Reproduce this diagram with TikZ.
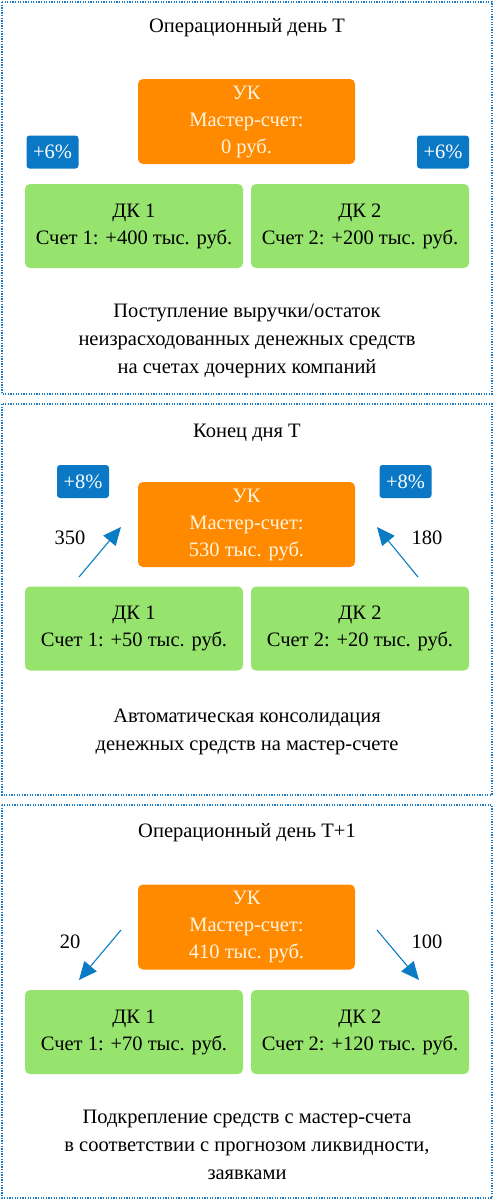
\documentclass[tikz,border=0pt]{standalone}
\usepackage{fontspec}
\setmainfont{Liberation Serif}
\usetikzlibrary{arrows.meta}
\definecolor{bord}{HTML}{1B7BC6}
\definecolor{ukc}{HTML}{FF8A00}
\definecolor{dkc}{HTML}{96E36E}
\definecolor{badgec}{HTML}{0A78C4}
\definecolor{arrc}{HTML}{0B7CC4}
\definecolor{ukt}{HTML}{FFF4E0}
\tikzset{
  panel/.style={draw=bord, line width=2pt, dash pattern=on 1.3pt off 1.3pt},
  ukbox/.style={fill=ukc, rounded corners=5pt, text=ukt, align=center, minimum width=217pt, minimum height=85pt, font=\fontsize{20.5}{27}\selectfont, inner sep=0pt},
  dkbox/.style={fill=dkc, rounded corners=5pt, text=black, align=center, minimum width=218pt, minimum height=84pt, font=\fontsize{20.5}{27}\selectfont, inner sep=0pt},
  badge/.style={fill=badgec, rounded corners=3pt, text=white, minimum width=52pt, minimum height=33pt, font=\fontsize{20.5}{22}\selectfont, inner sep=0pt},
  txt/.style={align=center, font=\fontsize{20.5}{28}\selectfont, inner sep=0pt},
  flow/.style={draw=arrc, line width=1.1pt, -{Triangle[length=18pt,width=16pt]}},
}
\begin{document}
\begin{tikzpicture}[x=1pt,y=-1pt]
\useasboundingbox (0,0) rectangle (495,1200);
% panels
\draw[panel] (2,2) rectangle (492,394);
\draw[panel] (2,404) rectangle (492,795);
\draw[panel] (2,805) rectangle (492,1198);

% ---------- panel 1
\node[txt] (t1) at (247,28) {Операционный день Т};
\node[ukbox] (uk1) at (246.5,121.5) {УК\\Мастер-счет:\\0 руб.};
\node[badge] (b1l) at (52.5,152) {+6\%};
\node[badge] (b1r) at (443,152) {+6\%};
\node[dkbox] (dk11) at (134,226) {ДК 1\\Счет 1: +400 тыс. руб.};
\node[dkbox] (dk12) at (360,226) {ДК 2\\Счет 2: +200 тыс. руб.};
\node[txt] (d1) at (247,341) {Поступление выручки/остаток\\неизрасходованных денежных средств\\на счетах дочерних компаний};

% ---------- panel 2
\node[txt] (t2) at (247,433) {Конец дня Т};
\node[ukbox] (uk2) at (246.5,524.5) {УК\\Мастер-счет:\\530 тыс. руб.};
\node[badge] (b2l) at (83,481.5) {+8\%};
\node[badge] (b2r) at (405.5,481.5) {+8\%};
\node[dkbox] (dk21) at (134,628.5) {ДК 1\\Счет 1: +50 тыс. руб.};
\node[dkbox] (dk22) at (360,628.5) {ДК 2\\Счет 2: +20 тыс. руб.};
\node[txt] (d2) at (247,732) {Автоматическая консолидация\\денежных средств на мастер-счете};
\coordinate (a2ls) at (79,577);
\coordinate (a2le) at (121,527);
\coordinate (a2rs) at (418,577);
\coordinate (a2re) at (377,527);
\draw[flow] (a2ls) -- (a2le);
\draw[flow] (a2rs) -- (a2re);
\node[txt] (l350) at (70,538) {350};
\node[txt] (l180) at (427,538) {180};

% ---------- panel 3
\node[txt] (t3) at (247,833) {Операционный день Т+1};
\node[ukbox] (uk3) at (246.5,927) {УК\\Мастер-счет:\\410 тыс. руб.};
\node[dkbox] (dk31) at (134,1032) {ДК 1\\Счет 1: +70 тыс. руб.};
\node[dkbox] (dk32) at (360,1032) {ДК 2\\Счет 2: +120 тыс. руб.};
\node[txt] (d3) at (247,1145) {Подкрепление средств с мастер-счета\\в соответствии с прогнозом ликвидности,\\заявками};
\coordinate (a3ls) at (121,930);
\coordinate (a3le) at (79,980);
\coordinate (a3rs) at (377,930);
\coordinate (a3re) at (419,980);
\draw[flow] (a3ls) -- (a3le);
\draw[flow] (a3rs) -- (a3re);
\node[txt] (l20) at (70,942) {20};
\node[txt] (l100) at (427,942) {100};
\end{tikzpicture}
\end{document}
